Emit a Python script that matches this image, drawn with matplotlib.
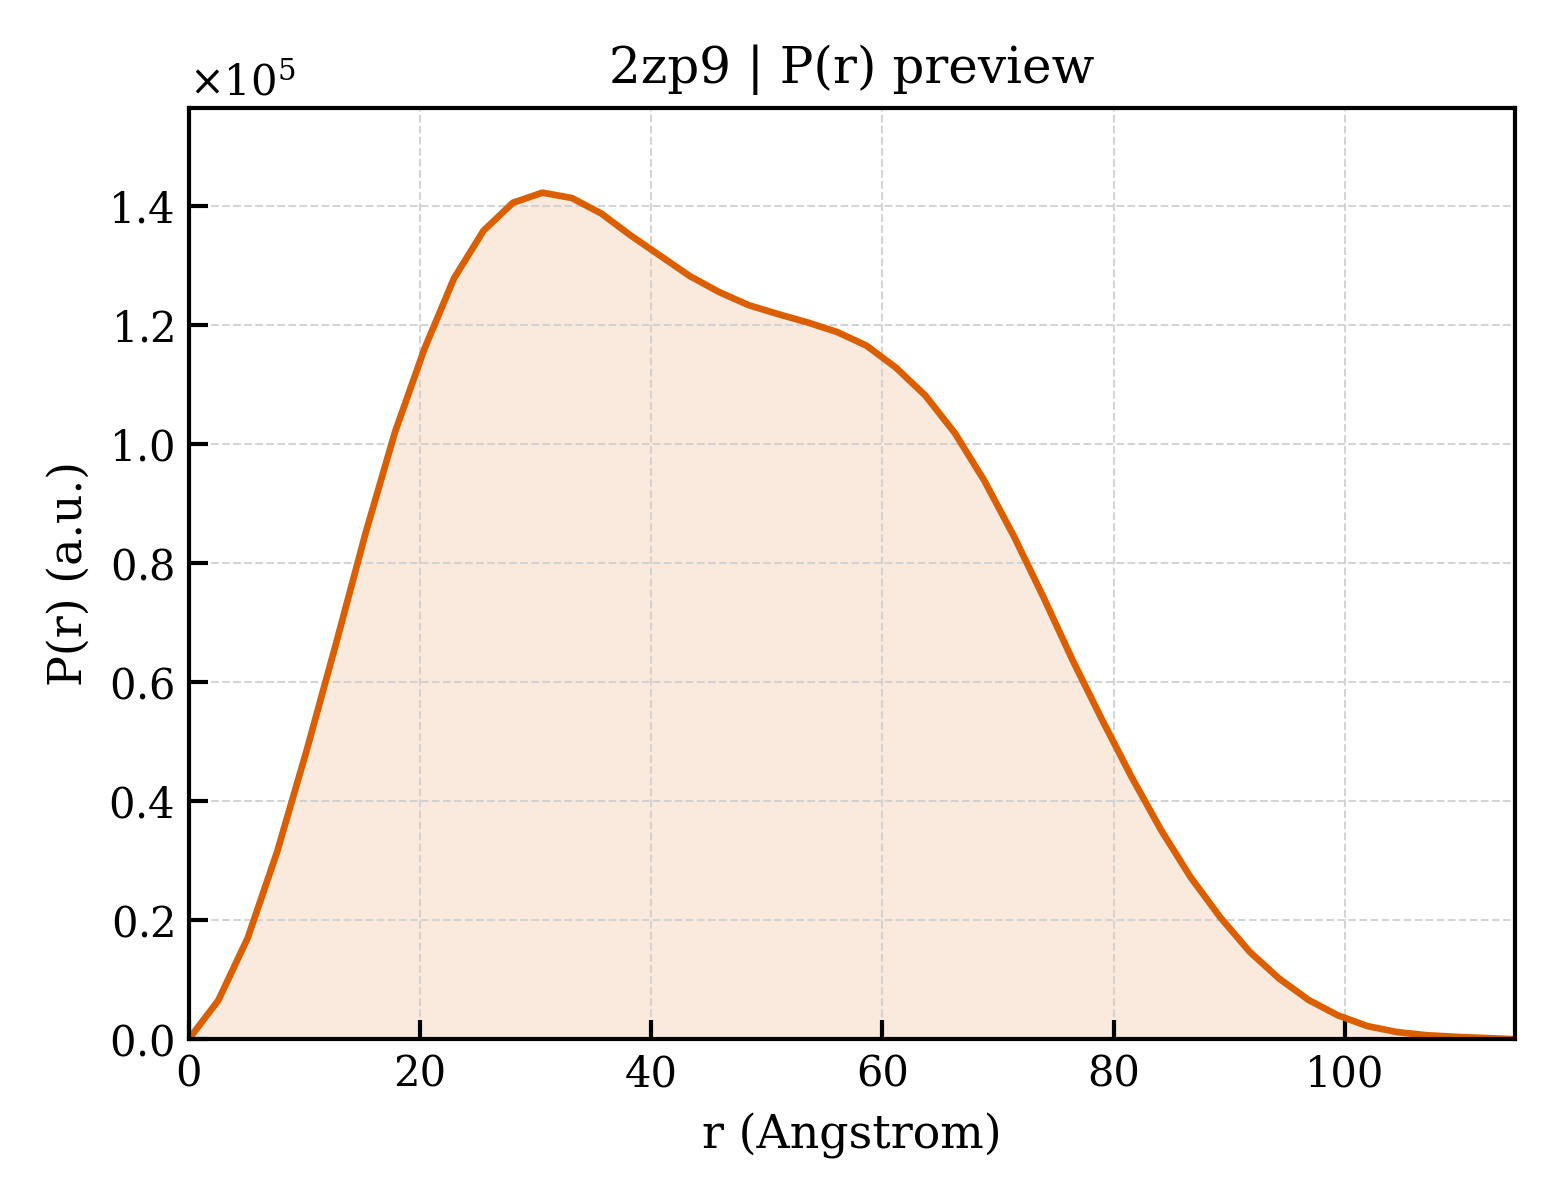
import numpy as np
import matplotlib
matplotlib.use("Agg")
import matplotlib.pyplot as plt

r_step = 2.549
p_r = [0.0, 0.065, 0.170, 0.315, 0.485, 0.665, 0.850, 1.020, 1.160, 1.278,
       1.358, 1.405, 1.422, 1.413, 1.387, 1.350, 1.316, 1.282, 1.255, 1.233,
       1.218, 1.204, 1.188, 1.165, 1.128, 1.081, 1.018, 0.938, 0.845, 0.743,
       0.636, 0.536, 0.440, 0.351, 0.272, 0.205, 0.147, 0.102, 0.066, 0.040,
       0.022, 0.012, 0.0067, 0.004, 0.002, 0.0]
x_ticks = [0, 20, 40, 60, 80, 100]
y_ticks = [0.0, 0.2, 0.4, 0.6, 0.8, 1.0, 1.2, 1.4]

r = np.arange(len(p_r)) * r_step
p = np.array(p_r) * 1e5

plt.rcParams['font.family'] = 'DejaVu Serif'
plt.rcParams['mathtext.fontset'] = 'dejavuserif'

fig = plt.figure(figsize=(5.2, 4.0), dpi=300)
ax = fig.add_axes([0.121, 0.134, 0.85, 0.776])

col = '#db5f00'
ax.fill_between(r, p, 0, color=col, alpha=0.13, lw=0)
ax.plot(r, p, color=col, lw=1.6)

ax.set_xlim(0, r[-1])
ax.set_ylim(0, p.max() * 1.1)
ax.set_xticks(x_ticks)
ax.set_yticks([v * 1e5 for v in y_ticks])
ax.ticklabel_format(axis='y', style='sci', scilimits=(0, 0), useMathText=True)
ax.yaxis.get_offset_text().set_fontsize(10)

ax.tick_params(direction='in', length=4.5, width=1.0, labelsize=10)
for s in ax.spines.values():
    s.set_linewidth(1.0)
ax.grid(True, ls='--', lw=0.5, color='#d0d0d0', alpha=0.9)

ax.set_xlabel('r (Angstrom)', fontsize=11)
ax.set_ylabel('P(r) (a.u.)', fontsize=11)
ax.set_title('2zp9 | P(r) preview', fontsize=12)

fig.savefig('out.png', dpi=300)
